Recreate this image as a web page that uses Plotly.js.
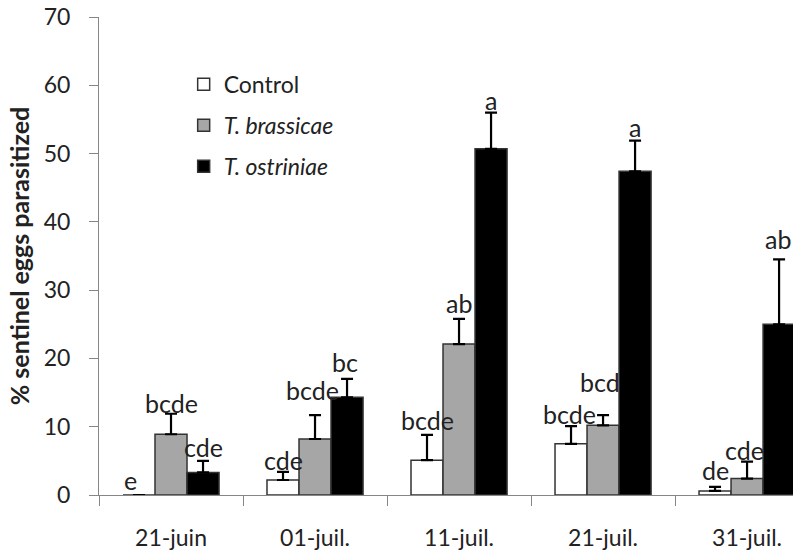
<!DOCTYPE html>
<html>
<head>
<meta charset="utf-8">
<script src="https://cdn.plot.ly/plotly-3.0.1.min.js"></script>
<style>
  html, body { margin: 0; padding: 0; background: #fff; overflow: hidden; }
  #chart { width: 793px; height: 552px; }
</style>
</head>
<body>
<div id="chart"></div>
<script>
// Sampling dates
const dates = ['21-juin', '01-juil.', '11-juil.', '21-juil.', '31-juil.'];

// Mean % parasitized sentinel eggs and standard errors per treatment
const control      = [0.0, 2.2, 5.1, 7.5, 0.6];
const controlErr   = [null, 1.2, 3.7, 2.6, 0.6];
const brassicae    = [8.9, 8.2, 22.1, 10.2, 2.4];
const brassicaeErr = [3.0, 3.5, 3.7, 1.5, 2.5];
const ostriniae    = [3.3, 14.3, 50.7, 47.4, 25.0];
const ostriniaeErr = [1.7, 2.7, 5.3, 4.5, 9.5];

// Significance letters (control, T. brassicae, T. ostriniae) per date
const lettersControl   = ['e', 'cde', 'bcde', 'bcde', 'de'];
const lettersBrassicae = ['bcde', 'bcde', 'ab', 'bcd', 'cde'];
const lettersOstriniae = ['cde', 'bc', 'a', 'a', 'ab'];

const FONT = 'Lato, "Open Sans", sans-serif';
const TEXT = '#222';
const AXIS = '#868686';
const FS = 23;
const LFS = 25;

function bar(name, y, err, color) {
  return {
    type: 'bar',
    name: name,
    legendgroup: name,
    x: dates,
    y: y,
    marker: { color: color, line: { color: '#333', width: 1.5 } },
    error_y: {
      type: 'data', symmetric: false,
      array: err, arrayminus: err.map(() => 0),
      color: '#000', thickness: 2.2, width: 6
    },
    hoverinfo: 'x+y'
  };
}

const traces = [
  bar('Control', control, controlErr, '#ffffff'),
  bar('<i>T. brassicae</i>', brassicae, brassicaeErr, '#a6a6a6'),
  bar('<i>T. ostriniae</i>', ostriniae, ostriniaeErr, '#000000')
];

// Letters sit above each error bar; lift (px) keeps them clear of the caps
const series = [
  { y: control,   e: controlErr,   l: lettersControl,   dx: [-41, -32, -32, -34, -32], lift: [15, 12, 15, 12, 17] },
  { y: brassicae, e: brassicaeErr, l: lettersBrassicae, dx: [0, -3, 0, -3, -3],       lift: [11, 25, 16, 33, 12] },
  { y: ostriniae, e: ostriniaeErr, l: lettersOstriniae, dx: [32, 30, 32, 32, 31],     lift: [14, 17, 13, 14, 20] }
];
const annotations = [];
series.forEach(s => {
  dates.forEach((d, i) => {
    annotations.push({
      x: d, xref: 'x', y: s.y[i] + (s.e[i] || 0), yref: 'y',
      text: s.l[i], showarrow: false,
      xanchor: 'center', yanchor: 'middle',
      xshift: s.dx[i], yshift: s.lift[i],
      font: { family: FONT, size: LFS, color: TEXT }
    });
  });
});

const layout = {
  width: 793, height: 552,
  margin: { l: 99, r: 0, t: 17, b: 57 },
  paper_bgcolor: '#fff', plot_bgcolor: '#fff',
  font: { family: FONT, size: FS, color: TEXT },
  barmode: 'group', bargap: 0.333, bargroupgap: 0,
  showlegend: true,
  legend: {
    x: 0.122, y: 0.904, xanchor: 'left', yanchor: 'top',
    traceorder: 'grouped', tracegroupgap: 8,
    bgcolor: 'rgba(0,0,0,0)',
    font: { family: FONT, size: FS, color: TEXT }
  },
  xaxis: {
    type: 'category', range: [-0.5, 4.319],
    showline: true, linecolor: AXIS, linewidth: 1,
    ticks: 'outside', tickson: 'boundaries', ticklen: 10, tickcolor: AXIS,
    ticklabelstandoff: 22,
    showgrid: false, zeroline: false, fixedrange: true
  },
  yaxis: {
    range: [0, 70], dtick: 10,
    showline: true, linecolor: AXIS, linewidth: 1,
    ticks: 'outside', ticklen: 9, tickcolor: AXIS,
    ticklabelstandoff: 14,
    showgrid: false, zeroline: false, fixedrange: true,
    title: {
      text: '<b>% sentinel eggs parasitized</b>',
      font: { family: FONT, size: 25, color: TEXT },
      standoff: 6
    }
  },
  annotations: annotations
};

Plotly.newPlot('chart', traces, layout, { displayModeBar: false, staticPlot: true });
</script>
</body>
</html>
